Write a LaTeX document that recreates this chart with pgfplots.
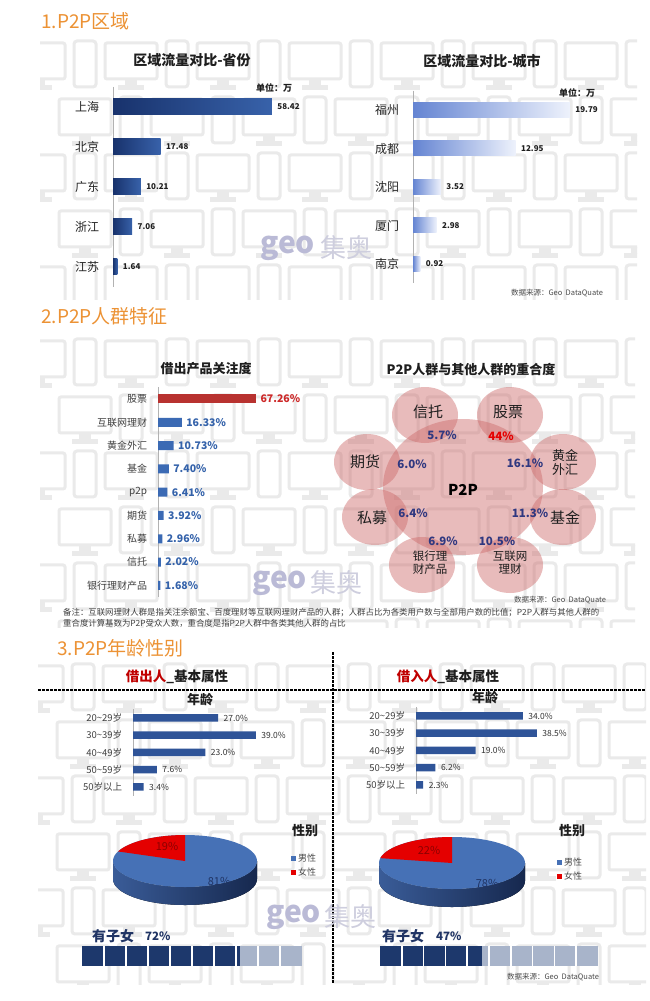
\documentclass[border=0pt]{standalone}
\usepackage{pgfplots}
\pgfplotsset{compat=1.18}
\usepackage{fontspec}
\setmainfont{Noto Sans CJK SC}
\newcommand{\fs}[1]{\fontsize{#1}{#1}\selectfont}
\definecolor{ttl}{RGB}{236,146,52}
\definecolor{patc}{RGB}{234,234,234}
\definecolor{navyL}{RGB}{24,50,108}
\definecolor{navyR}{RGB}{56,98,170}
\definecolor{lblueL}{RGB}{100,132,210}
\definecolor{lblueR}{RGB}{238,242,252}
\definecolor{sblue}{RGB}{59,106,180}
\definecolor{sred}{RGB}{184,50,48}
\definecolor{lblue}{RGB}{52,98,170}
\definecolor{lred}{RGB}{205,40,40}
\definecolor{venn}{RGB}{205,105,105}
\definecolor{vtxt}{RGB}{48,56,128}
\definecolor{ageb}{RGB}{47,84,152}
\definecolor{pieT}{RGB}{70,113,182}
\definecolor{pieSL}{RGB}{58,92,152}
\definecolor{pieSR}{RGB}{22,40,78}
\definecolor{pieR}{RGB}{228,0,0}
\definecolor{blkD}{RGB}{29,56,108}
\definecolor{blkL}{RGB}{168,180,202}
\definecolor{wmg}{RGB}{186,186,214}
\definecolor{wmc}{RGB}{206,206,222}
\definecolor{txt}{RGB}{30,30,30}
\definecolor{kids}{RGB}{32,52,100}
\definecolor{darkred}{RGB}{192,0,0}

\newcommand{\panel}[4]{%
\begin{scope}
\clip (#1,{1001-#2}) rectangle (#3,{1001-#4});
\foreach \rr in {0,...,6}{%
\foreach \cc in {0,...,7}{%
\pgfmathsetmacro{\X}{#1-30+\cc*92+mod(\rr,2)*46}%
\pgfmathsetmacro{\Y}{1001-#2-\rr*56}%
\begin{scope}[shift={(\X,\Y)}]
\draw[patc,line width=3pt,rounded corners=2pt] (3,-6) rectangle (55,-42);
\fill[patc] (23,-42) rectangle (35,-49);
\fill[patc] (16,-48) rectangle (42,-53);
\draw[patc,line width=3pt,rounded corners=3pt] (64,-4) rectangle (86,-50);
\end{scope}
}}
\end{scope}}

\pgfplotsset{
 hb/.style={xbar, scale only axis, anchor=south west, y dir=reverse, xmin=0,
   axis x line=none, axis y line*=left,
   y axis line style={draw=gray!60,line width=0.8pt},
   tick style={draw=none}, clip=false, bar shift=0pt, point meta=x,
   nodes near coords, nodes near coords align={horizontal},
   /pgf/number format/assume math mode=true},
}

\begin{document}
\begin{tikzpicture}[x=1pt,y=1pt]
\fill[white] (0,0) rectangle (650,1001);
\panel{40}{37}{637}{300}
\panel{40}{335}{635}{628}
\panel{38}{660}{646}{985}

% ---------- canvas ----------
\begin{axis}[at={(0pt,0pt)},anchor=south west,scale only axis,width=650pt,height=1001pt,
 xmin=0,xmax=650,ymin=0,ymax=1001,y dir=reverse,hide axis,clip=false]
% Venn
\fill[venn,fill opacity=0.45] (463,487) ellipse [x radius=80pt, y radius=68pt];
\fill[venn,fill opacity=0.45] (425,415) ellipse [x radius=33pt, y radius=28pt];
\fill[venn,fill opacity=0.45] (510,415) ellipse [x radius=33pt, y radius=28pt];
\fill[venn,fill opacity=0.45] (367,462) ellipse [x radius=33pt, y radius=28pt];
\fill[venn,fill opacity=0.45] (563,462) ellipse [x radius=33pt, y radius=28pt];
\fill[venn,fill opacity=0.45] (375,517) ellipse [x radius=33pt, y radius=28pt];
\fill[venn,fill opacity=0.45] (563,517) ellipse [x radius=33pt, y radius=28pt];
\fill[venn,fill opacity=0.45] (422,565) ellipse [x radius=33pt, y radius=28pt];
\fill[venn,fill opacity=0.45] (510,565) ellipse [x radius=33pt, y radius=28pt];
% pies
\fill[left color=pieSL,right color=pieSR] (113,861) arc[start angle=180,end angle=360,x radius=72pt,y radius=26pt] -- (257,879) arc[start angle=360,end angle=180,x radius=72pt,y radius=26pt] -- cycle;
\fill[pieT] (185,861) ellipse [x radius=72pt,y radius=26pt];
\fill[pieR] (185,861) -- (185,835) arc[start angle=90,end angle=158.4,x radius=72pt,y radius=26pt] -- cycle;
\fill[left color=pieSL,right color=pieSR] (379,863) arc[start angle=180,end angle=360,x radius=73pt,y radius=26pt] -- (525,881) arc[start angle=360,end angle=180,x radius=73pt,y radius=26pt] -- cycle;
\fill[pieT] (452,863) ellipse [x radius=73pt,y radius=26pt];
\fill[pieR] (452,863) -- (452,837) arc[start angle=90,end angle=169.2,x radius=73pt,y radius=26pt] -- cycle;
% dashed separators
\draw[black,line width=1.1pt,dash pattern=on 2.5pt off 1.5pt] (333,652) -- (333,984);
\draw[black,line width=1.1pt,dash pattern=on 2.5pt off 1.5pt] (38,690) -- (646,690);

% ---- section 1 texts
\node[anchor=west,text=ttl,inner sep=0] at (41,21) {\fs{19}1.P2P区域};
\node[text=txt] at (192,60) {\bfseries\fs{14}区域流量对比-省份};
\node[text=txt] at (482,61) {\bfseries\fs{14}区域流量对比-城市};
\node[text=txt] at (274,88) {\bfseries\fs{9}单位：万};
\node[text=txt] at (577,93) {\bfseries\fs{9}单位：万};
\node[anchor=west,text=wmg,inner sep=0] at (260,248) {\bfseries\fs{30}geo};
\node[anchor=west,text=wmc,inner sep=0] at (320,248) {\fs{26}集奥};
\node[text=black!70] at (557,293) {\fs{7.5}数据来源：Geo\ \ DataQuate};

% ---- section 2 texts
\node[anchor=west,text=ttl,inner sep=0] at (41,316) {\fs{19}2.P2P人群特征};
\node[text=txt] at (206,369) {\bfseries\fs{13}借出产品关注度};
\node[text=txt] at (471,369) {\bfseries\fs{13}P2P人群与其他人群的重合度};
\node[text=txt] at (428,412) {\fs{15}信托};
\node[text=txt] at (508,412) {\fs{15}股票};
\node[text=txt] at (365,462) {\fs{15}期货};
\node[text=txt,align=center,inner sep=0] at (565,462) {\fs{13}黄金\\[1pt]\fs{13}外汇};
\node[text=txt] at (372,518) {\fs{15}私募};
\node[text=txt] at (565,518) {\fs{15}基金};
\node[text=txt,align=center,inner sep=0] at (430,563) {\fs{11.5}银行理\\[1pt]\fs{11.5}财产品};
\node[text=txt,align=center,inner sep=0] at (510,563) {\fs{11.5}互联网\\[1pt]\fs{11.5}理财};
\node[text=vtxt] at (442,435) {\bfseries\fs{11.5}5.7\%};
\node[text=red!90!black] at (501,436) {\bfseries\fs{11.5}44\%};
\node[text=vtxt] at (412,464) {\bfseries\fs{11.5}6.0\%};
\node[text=vtxt] at (525,463) {\bfseries\fs{11.5}16.1\%};
\node[text=black] at (463,490) {\bfseries\fs{15}P2P};
\node[text=vtxt] at (413,513) {\bfseries\fs{11.5}6.4\%};
\node[text=vtxt] at (530,513) {\bfseries\fs{11.5}11.3\%};
\node[text=vtxt] at (443,541) {\bfseries\fs{11.5}6.9\%};
\node[text=vtxt] at (497,541) {\bfseries\fs{11.5}10.5\%};
\node[anchor=west,text=wmg,inner sep=0] at (252,583) {\bfseries\fs{30}geo};
\node[anchor=west,text=wmc,inner sep=0] at (310,583) {\fs{26}集奥};
\node[text=black!70] at (560,600) {\fs{7.5}数据来源：Geo\ \ DataQuate};
\node[anchor=west,text=black!75,inner sep=0] at (63,613) {\fs{8.4}备注：互联网理财人群是指关注余额宝、百度理财等互联网理财产品的人群；人群占比为各类用户数与全部用户数的比值；P2P人群与其他人群的};
\node[anchor=west,text=black!75,inner sep=0] at (63,623) {\fs{8.4}重合度计算基数为P2P受众人数，重合度是指P2P人群中各类其他人群的占比};

% ---- section 3 texts
\node[anchor=west,text=ttl,inner sep=0] at (57,648) {\fs{19}3.P2P年龄性别};
\node[text=txt] at (177,677) {\bfseries\fs{13.5}\textcolor{darkred}{借出人}\_基本属性};
\node[text=txt] at (448,677) {\bfseries\fs{13.5}\textcolor{darkred}{借入人}\_基本属性};
\node[text=txt] at (200,700) {\bfseries\fs{13}年龄};
\node[text=txt] at (485,698) {\bfseries\fs{13}年龄};
\node[text=txt] at (305,831) {\bfseries\fs{13}性别};
\node[text=txt] at (572,831) {\bfseries\fs{13}性别};
\fill[pieT] (291,855.5) rectangle (296,860.5);
\node[anchor=west,text=black!70,inner sep=1pt] at (297,858) {\fs{9}男性};
\fill[pieR] (291,869.5) rectangle (296,874.5);
\node[anchor=west,text=black!70,inner sep=1pt] at (297,872) {\fs{9}女性};
\fill[pieT] (557,859.5) rectangle (562,864.5);
\node[anchor=west,text=black!70,inner sep=1pt] at (563,862) {\fs{9}男性};
\fill[pieR] (557,873.5) rectangle (562,878.5);
\node[anchor=west,text=black!70,inner sep=1pt] at (563,876) {\fs{9}女性};
\node[text=red!55!black] at (167,846) {\fs{11}19\%};
\node[text=kids] at (219,881) {\fs{11}81\%};
\node[text=red!55!black] at (429,850) {\fs{11}22\%};
\node[text=kids] at (487,883) {\fs{11}78\%};
\node[anchor=west,text=wmg,inner sep=0] at (266,917) {\bfseries\fs{30}geo};
\node[anchor=west,text=wmc,inner sep=0] at (324,917) {\fs{26}集奥};
\node[anchor=west,text=kids,inner sep=0] at (92,936) {\bfseries\fs{14}有子女};
\node[anchor=west,text=kids,inner sep=0] at (145,936) {\bfseries\fs{11.5}72\%};
\node[anchor=west,text=kids,inner sep=0] at (382,936) {\bfseries\fs{14}有子女};
\node[anchor=west,text=kids,inner sep=0] at (436,936) {\bfseries\fs{11.5}47\%};
\node[text=black!70] at (553,977) {\fs{7.5}数据来源：Geo\ \ DataQuate};
\end{axis}

% ---------- section 1 left: provinces ----------
\begin{axis}[hb, at={(113pt,714pt)}, width=163.2pt, height=200pt, xmax=60,
  ymin=-0.5, ymax=4.5, bar width=16pt, ytick={0,...,4},
  yticklabels={上海,北京,广东,浙江,江苏},
  yticklabel style={font=\fs{12}, text=black!85, xshift=-6pt},
  nodes near coords style={font=\bfseries\fs{8}, text=txt, xshift=2pt},
  /pgf/number format/fixed, /pgf/number format/fixed zerofill, /pgf/number format/precision=2]
\addplot[draw=none, left color=navyL, right color=navyR] coordinates {(58.42,0)};
\addplot[draw=none, left color=navyL, right color=navyR] coordinates {(17.48,1)};
\addplot[draw=none, left color=navyL, right color=navyR] coordinates {(10.21,2)};
\addplot[draw=none, left color=navyL, right color=navyR] coordinates {(7.06,3)};
\addplot[draw=none, left color=navyL, right color=navyR] coordinates {(1.64,4)};
\end{axis}

% ---------- section 1 right: cities ----------
\begin{axis}[hb, at={(413pt,717.75pt)}, width=198.25pt, height=192.5pt, xmax=25,
  ymin=-0.5, ymax=4.5, bar width=15pt, ytick={0,...,4},
  yticklabels={福州,成都,沈阳,厦门,南京},
  yticklabel style={font=\fs{12}, text=black!85, xshift=-6pt},
  nodes near coords style={font=\bfseries\fs{8}, text=txt, xshift=2pt},
  /pgf/number format/fixed, /pgf/number format/fixed zerofill, /pgf/number format/precision=2]
\addplot[draw=none, left color=lblueL, right color=lblueR] coordinates {(19.79,0)};
\addplot[draw=none, left color=lblueL, right color=lblueR] coordinates {(12.95,1)};
\addplot[draw=none, left color=lblueL, right color=lblueR] coordinates {(3.52,2)};
\addplot[draw=none, left color=lblueL, right color=lblueR] coordinates {(2.98,3)};
\addplot[draw=none, left color=lblueL, right color=lblueR] coordinates {(0.92,4)};
\end{axis}

% ---------- section 2: product attention ----------
\begin{axis}[hb, at={(158pt,404pt)}, width=116.56pt, height=209.7pt, xmax=80,
  ymin=-0.5, ymax=8.5, bar width=9pt, ytick={0,...,8},
  yticklabels={股票,互联网理财,黄金外汇,基金,p2p,期货,私募,信托,银行理财产品},
  yticklabel style={font=\fs{10}, text=black!75, xshift=-3pt},
  nodes near coords={\pgfmathprintnumber[fixed,fixed zerofill,precision=2,assume math mode=true]{\pgfplotspointmeta}\%},
  nodes near coords style={font=\bfseries\fs{10.5}, text=lblue, xshift=1pt}]
\addplot[draw=none, fill=sred, nodes near coords style={text=lred}] coordinates {(67.26,0)};
\addplot[draw=none, fill=sblue] coordinates {(16.33,1) (10.73,2) (7.40,3) (6.41,4) (3.92,5) (2.96,6) (2.02,7) (1.68,8)};
\end{axis}

% ---------- section 3 left ages ----------
\begin{axis}[hb, at={(133pt,205.4pt)}, width=157.5pt, height=86.25pt, xmax=50,
  ymin=-0.5, ymax=4.5, bar width=7.5pt, ytick={0,...,4},
  yticklabels={20\textasciitilde29岁,30\textasciitilde39岁,40\textasciitilde49岁,50\textasciitilde59岁,50岁以上},
  yticklabel style={font=\fs{9.5}, text=black!75, xshift=-3pt},
  nodes near coords={\pgfmathprintnumber[fixed,fixed zerofill,precision=1,assume math mode=true]{\pgfplotspointmeta}\%},
  nodes near coords style={font=\fs{8.5}, text=black!80, xshift=2pt}]
\addplot[draw=none, fill=ageb] coordinates {(27.0,0) (39.0,1) (23.0,2) (7.6,3) (3.4,4)};
\end{axis}

% ---------- section 3 right ages ----------
\begin{axis}[hb, at={(416pt,207.4pt)}, width=157pt, height=86.25pt, xmax=50,
  ymin=-0.5, ymax=4.5, bar width=7.5pt, ytick={0,...,4},
  yticklabels={20\textasciitilde29岁,30\textasciitilde39岁,40\textasciitilde49岁,50\textasciitilde59岁,50岁以上},
  yticklabel style={font=\fs{9.5}, text=black!75, xshift=-3pt},
  nodes near coords={\pgfmathprintnumber[fixed,fixed zerofill,precision=1,assume math mode=true]{\pgfplotspointmeta}\%},
  nodes near coords style={font=\fs{8.5}, text=black!80, xshift=2pt}]
\addplot[draw=none, fill=ageb] coordinates {(34.0,0) (38.5,1) (19.0,2) (6.2,3) (2.3,4)};
\end{axis}

% ---------- children blocks ----------
\begin{axis}[at={(82pt,35pt)},anchor=south west,scale only axis,width=220pt,height=20pt,
 xbar stacked, bar width=20pt, xmin=0,xmax=100,ymin=-0.5,ymax=0.5,
 axis line style={draw=none}, tick style={draw=none}, xtick={10,20,...,90}, ytick=\empty, xticklabels={},
 xmajorgrids, grid style={white,line width=1.6pt}, axis on top]
\addplot[fill=blkD,draw=none] coordinates {(72,0)};
\addplot[fill=blkL,draw=none] coordinates {(28,0)};
\end{axis}
\begin{axis}[at={(380pt,35pt)},anchor=south west,scale only axis,width=218pt,height=20pt,
 xbar stacked, bar width=20pt, xmin=0,xmax=100,ymin=-0.5,ymax=0.5,
 axis line style={draw=none}, tick style={draw=none}, xtick={10,20,...,90}, ytick=\empty, xticklabels={},
 xmajorgrids, grid style={white,line width=1.6pt}, axis on top]
\addplot[fill=blkD,draw=none] coordinates {(47,0)};
\addplot[fill=blkL,draw=none] coordinates {(53,0)};
\end{axis}
\end{tikzpicture}
\end{document}
